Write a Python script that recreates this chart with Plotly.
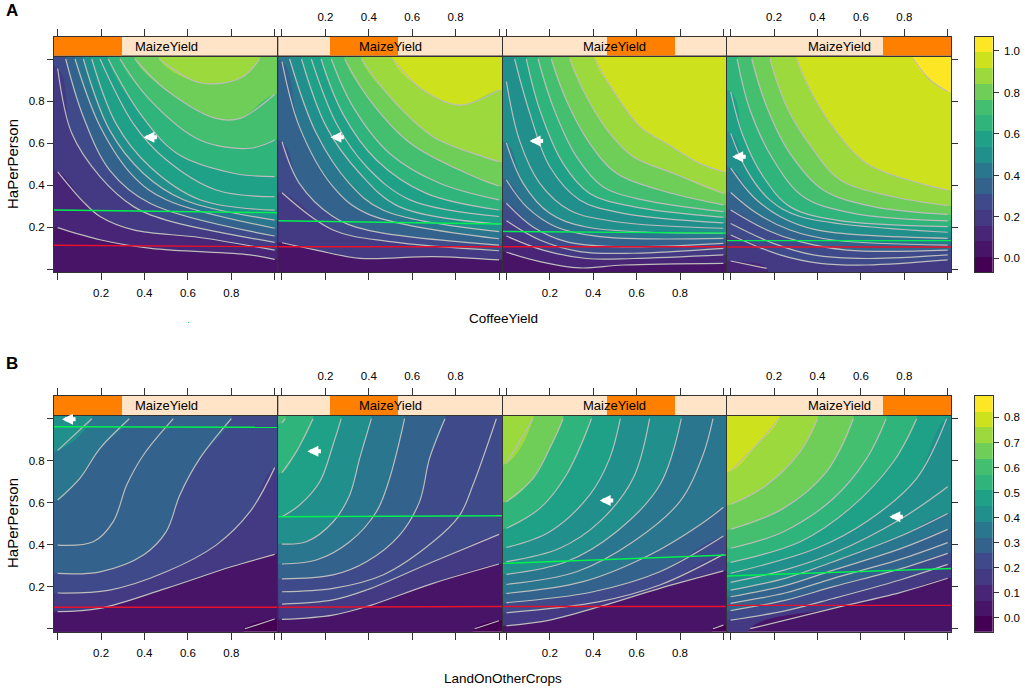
import plotly.graph_objects as go

# contour lines: (x values, y values), lowest first
lines_a1 = [
    ([0, .2, .43, .886, 1], [.197, .138, .098, .067, .046]),
    ([0, .118, .195, .35, .655, 1], [.463, .32, .25, .186, .15, .09]),
    ([0, .065, .195, .35, .5, 1], [.955, .646, .44, .297, .233, .127]),
    ([.037, .118, .24, .425, 1], [1, .725, .47, .313, .157]),
    ([.08, .195, .35, .5, 1], [1, .68, .44, .33, .194]),
    ([.118, .24, .395, .58, 1], [1, .66, .455, .33, .233]),
    ([.157, .27, .425, .655, 1], [1, .69, .487, .33, .28]),
    ([.195, .35, .5, .73, 1], [1, .69, .52, .376, .344]),
    ([.233, .38, .55, .81, 1], [1, .74, .55, .456, .44]),
    ([.287, .425, .655, .886, 1], [1, .805, .614, .575, .614]),
    ([.356, .5, .73, .84, 1], [1, .852, .717, .717, .832]),
    ([.468, .655, .84, .93], [1, .887, .908, 1]),
]
lines_a2 = [
    ([0, .158, .358, .696, 1], [.125, .09, .051, .059, .043]),
    ([0, .235, .5, 1], [.363, .186, .13, .087]),
    ([0, .08, .235, .39, 1], [.606, .408, .25, .186, .114]),
    ([0, .08, .235, .39, 1], [.987, .678, .392, .265, .144]),
    ([.035, .158, .31, .465, 1], [1, .646, .408, .281, .178]),
    ([.09, .204, .358, .54, 1], [1, .678, .456, .297, .214]),
    ([.135, .25, .39, .59, 1], [1, .694, .487, .329, .25]),
    ([.18, .28, .435, .665, 1], [1, .74, .519, .36, .281]),
    ([.227, .327, .496, .727, 1], [1, .773, .55, .408, .329]),
    ([.289, .404, .59, .85, 1], [1, .805, .6, .456, .395]),
    ([.366, .51, .696, .926, 1], [1, .805, .63, .535, .511]),
    ([.51, .65, .82, 1], [1, .852, .78, .852]),
]
lines_a3 = [
    ([0, .154, .338, .538, 1], [.08, .035, .005, .019, .027]),
    ([0, .169, .369, .584, 1], [.157, .09, .05, .05, .067]),
    ([0, .154, .338, .584, 1], [.23, .138, .083, .075, .098]),
    ([0, .123, .276, .507, 1], [.313, .2, .13, .106, .122]),
    ([0, .092, .23, .43, 1], [.424, .297, .2, .154, .146]),
    ([0, .077, .2, .369, 1], [.6, .408, .265, .2, .17]),
    ([0, .06, .154, .292, .507, 1], [.892, .614, .408, .28, .225, .194]),
    ([.038, .108, .2, .338, .538, 1], [1, .741, .487, .329, .265, .22]),
    ([.092, .154, .261, .384, .584, 1], [1, .757, .503, .36, .297, .246]),
    ([.146, .215, .323, .445, .63, 1], [1, .773, .535, .392, .329, .273]),
    ([.207, .276, .384, .507, .707, 1], [1, .805, .598, .456, .376, .305]),
    ([.292, .369, .476, .584, .768, 1], [1, .82, .646, .535, .456, .36]),
    ([.407, .49, .615, .737, .89, 1], [1, .852, .678, .598, .503, .463]),
]
lines_a4 = [
    ([0, .166], [.038, .003]),
    ([0, .227, .412, .627, 1], [.162, .067, .027, .019, .043]),
    ([0, .197, .381, .627, 1], [.217, .122, .067, .05, .067]),
    ([0, .166, .32, .535, 1], [.281, .186, .13, .09, .09]),
    ([0, .12, .273, .473, 1], [.364, .265, .186, .138, .114]),
    ([0, .104, .227, .396, 1], [.48, .344, .25, .186, .146]),
    ([0, .074, .18, .32, 1], [.646, .471, .329, .25, .175]),
    ([0, .058, .15, .273, .488, 1], [.844, .63, .44, .297, .233, .202]),
    ([.03, .089, .197, .335, .565, 1], [1, .757, .519, .344, .265, .229]),
    ([.097, .166, .273, .427, .657, 1], [1, .773, .551, .376, .297, .26]),
    ([.181, .258, .381, .504, .75, 1], [1, .773, .567, .424, .344, .302]),
    ([.304, .366, .458, .627, .873, 1], [1, .852, .694, .503, .408, .376]),
    ([.842, .919, 1], [1, .9, .845]),
]
lines_b1 = [
    ([.863, 1], [0, .046]),
    ([0, .195, .5, .8, 1], [.081, .097, .192, .295, .354]),
    ([0, .24, .5, .73, .886, 1], [.17, .184, .271, .398, .557, .767]),
    ([0, .195, .395, .5, .563, .655, .8], [.263, .271, .351, .462, .637, .811, 1]),
    ([0, .164, .256, .318, .395, .533], [.398, .414, .51, .684, .827, 1]),
    ([0, .103, .195, .33], [.613, .717, .859, 1]),
    ([0, .157], [.849, 1]),
]
lines_b2 = [
    ([.888, 1], [0, .038]),
    ([0, .235, .389, .696, 1], [.044, .065, .105, .216, .308]),
    ([0, .235, .389, .696, 1], [.117, .137, .184, .319, .449]),
    ([0, .235, .465, .696, .819, .88, .988], [.176, .192, .256, .414, .541, .684, 1]),
    ([0, .235, .389, .542, .634, .68, .751], [.237, .256, .319, .446, .605, .811, 1]),
    ([0, .158, .312, .435, .496, .565], [.308, .327, .414, .557, .716, 1]),
    ([0, .112, .235, .312, .358, .412], [.403, .414, .508, .637, .811, 1]),
    ([0, .081, .174, .235, .273], [.533, .589, .7, .875, 1]),
    ([0, .066, .143], [.743, .843, 1]),
    ([0, .015], [.98, 1]),
]
lines_b3 = [
    ([.952, 1], [0, .017]),
    ([0, .2, .43, .707, 1], [.014, .041, .105, .192, .275]),
    ([0, .43, .707, 1], [.076, .129, .208, .354]),
    ([0, .4, .707, 1], [.124, .176, .271, .441]),
    ([0, .353, .66, .891, 1], [.168, .224, .351, .494, .578]),
    ([0, .323, .584, .799, .906, .952], [.211, .271, .414, .605, .827, 1]),
    ([0, .276, .507, .707, .806], [.259, .319, .462, .684, 1]),
    ([0, .246, .43, .584, .66], [.319, .383, .51, .716, 1]),
    ([0, .2, .384, .476, .525], [.387, .462, .637, .811, 1]),
    ([0, .154, .276, .392], [.478, .573, .732, 1]),
    ([0, .123, .2, .261], [.605, .716, .859, 1]),
    ([0, .123], [.787, 1]),
]
lines_b4 = [
    ([.09, .473, .78, 1], [0, .097, .172, .24]),
    ([0, .25, .473, .78, 1], [.041, .085, .144, .232, .306]),
    ([0, .25, .473, .78, 1], [.086, .135, .2, .285, .359]),
    ([0, .25, .473, .78, 1], [.121, .17, .24, .33, .41]),
    ([0, .25, .473, .78, 1], [.152, .205, .279, .38, .473]),
    ([0, .25, .473, .78, 1], [.184, .24, .319, .44, .549]),
    ([0, .25, .473, .78, 1], [.221, .28, .359, .52, .676]),
    ([0, .396, .627, .857, .995], [.264, .383, .51, .716, 1]),
    ([0, .32, .55, .75, .857], [.316, .414, .573, .795, 1]),
    ([0, .243, .473, .627, .716], [.383, .462, .62, .811, 1]),
    ([0, .243, .442, .565], [.473, .573, .748, 1]),
    ([0, .166, .32, .40], [.592, .684, .843, 1]),
    ([0, .12, .223], [.751, .875, 1]),
]

# colour band of each panel region: the part below the lowest line, then above each line in turn
bands_a1 = [1, 2, 3, 4, 5, 6, 7, 8, 8, 9, 10, 11, 12]
bands_a2 = [1, 3, 4, 5, 6, 7, 8, 8, 9, 10, 11, 12, 13]
bands_a3 = [1, 2, 3, 4, 5, 6, 7, 7, 8, 9, 10, 11, 12, 13]
bands_a4 = [2, 3, 4, 4, 5, 6, 7, 8, 9, 10, 11, 12, 13, 14]
bands_b1 = [0, 1, 3, 4, 5, 5, 6, 7]
bands_b2 = [0, 1, 3, 4, 4, 5, 6, 7, 8, 9, 10]
bands_b3 = [0, 1, 3, 4, 5, 6, 6, 7, 7, 8, 9, 11, 12]
bands_b4 = [1, 3, 4, 5, 5, 6, 7, 7, 8, 9, 10, 11, 12, 13]

# level breaks of the two colour keys
breaks_a_start, breaks_a_size = 0.009, 0.0757
breaks_b_start, breaks_b_size = 0.0077, 0.0627
key_ticks_a = [0, 0.2, 0.4, 0.6, 0.8, 1.0]
key_ticks_b = [0, 0.1, 0.2, 0.3, 0.4, 0.5, 0.6, 0.7, 0.8]

band_colors = ['#440154', '#481467', '#482576', '#443a83', '#3e4a89', '#33638d', '#2a768e',
               '#21908c', '#1fa187', '#2fb47c', '#44bf70', '#6ece58', '#9bd93c', '#cde11d', '#fde725']

# shingle ranges of the MaizeYield strips
shingle_low = [-0.02, 0.223, 0.464, 0.703]
shingle_high = [0.295, 0.538, 0.777, 1.02]

# reference lines, value at left end and right end
green_a = [[.281, .268], [.23, .214], [.179, .171], [.135, .135]]
red_a = [[.113, .106], [.106, .106], [.106, .106], [.105, .105]]
green_b = [[.962, .959], [.533, .538], [.311, .351], [.251, .287]]
red_b = [[.102, .102], [.102, .106], [.106, .106], [.111, .111]]

# white arrow tips
arrows_a = [[.395, .627], [.223, .627], [.107, .61], [.007, .535]]
arrows_b = [[.02, .997], [.117, .845], [.43, .61], [.731, .533]]

axis_ticks = [0, 0.2, 0.4, 0.6, 0.8, 1]
axis_tick_text = ['', '0.2', '0.4', '0.6', '0.8', '']

W, H = 1025, 700
FONT = 'Liberation Sans, Arial'
TICK_SIZE = 11.5
LINE = '#333333'
PAD = 0.2  # fills run past the panel and get clipped by the axes


def px_x(v):
    return v / W


def px_y(v):
    return 1 - v / H


def region_above(xs, ys):
    # close a contour line along the panel edge, counter-clockwise, so the polygon covers the higher side
    x0, x1, y0, y1 = -PAD, 1 + PAD, -PAD, 1 + PAD
    start = 'left' if xs[0] <= 0.001 else ('bottom' if ys[0] <= 0.005 else 'top')
    end = 'right' if xs[-1] >= 0.995 else ('bottom' if ys[-1] <= 0.005 else 'top')
    first = {'left': (x0, ys[0]), 'bottom': (xs[0], y0), 'top': (xs[0], y1)}[start]
    last = {'right': (x1, ys[-1]), 'bottom': (xs[-1], y0), 'top': (xs[-1], y1)}[end]
    path = [first] + list(zip(xs, ys)) + [last]
    corners = [('bottom', (x1, y0)), ('right', (x1, y1)), ('top', (x0, y1)), ('left', (x0, y0))]
    names = [c[0] for c in corners]
    i = names.index(end)
    while names[i % 4] != start:
        path.append(corners[i % 4][1])
        i += 1
    return [p[0] for p in path], [p[1] for p in path]


fig = go.Figure()
layout = {}
annotations = []

panel_left = [54, 278.3, 502.7, 727]
panel_w = 224.3
x_range = [-0.017, 1.0166]

rows = [
    dict(lines=[lines_a1, lines_a2, lines_a3, lines_a4], bands=[bands_a1, bands_a2, bands_a3, bands_a4],
         green=green_a, red=red_a, arrows=arrows_a,
         top=55.5, bottom=272.3, strip_top=36.7, yrange=[-0.0157, 1.0167],
         start=breaks_a_start, size=breaks_a_size,
         title='CoffeeYield', title_y=318, ytitle_y=164, letter='A', letter_y=11, ticks=key_ticks_a),
    dict(lines=[lines_b1, lines_b2, lines_b3, lines_b4], bands=[bands_b1, bands_b2, bands_b3, bands_b4],
         green=green_b, red=red_b, arrows=arrows_b,
         top=415, bottom=631.7, strip_top=396, yrange=[-0.0143, 1.0176],
         start=breaks_b_start, size=breaks_b_size,
         title='LandOnOtherCrops', title_y=678, ytitle_y=523, letter='B', letter_y=363, ticks=key_ticks_b),
]

axis_n = 0
for r, row in enumerate(rows):
    dom_y = [px_y(row['bottom']), px_y(row['top'])]
    strip_y = [px_y(row['top']), px_y(row['strip_top'])]
    for i in range(4):
        # main panel
        axis_n += 1
        xa, ya = f'x{axis_n}', f'y{axis_n}'
        panel_lines = row['lines'][i]
        bands = row['bands'][i]
        # lowest band as the background, every level painted over the one below
        fig.add_trace(go.Scatter(x=[-PAD, 1 + PAD, 1 + PAD, -PAD], y=[-PAD, -PAD, 1 + PAD, 1 + PAD], mode='lines',
                                 fill='toself', fillcolor=band_colors[bands[0]], line=dict(width=0), xaxis=xa,
                                 yaxis=ya, showlegend=False, hoverinfo='skip'))
        for k, (lx, ly) in enumerate(panel_lines):
            rx, ry = region_above(lx, ly)
            fig.add_trace(go.Scatter(x=rx, y=ry, mode='lines', fill='toself', fillcolor=band_colors[bands[k + 1]],
                                     line=dict(width=0, shape='spline', smoothing=1), xaxis=xa, yaxis=ya,
                                     showlegend=False, hoverinfo='skip'))
        for lx, ly in panel_lines:
            fig.add_trace(go.Scatter(x=lx, y=ly, mode='lines', xaxis=xa, yaxis=ya, showlegend=False,
                                     line=dict(color='#bcbcbc', width=1.2, shape='spline', smoothing=1),
                                     hoverinfo='skip'))
        for vals, col in ((row['green'][i], '#00f050'), (row['red'][i], '#e8112d')):
            fig.add_trace(go.Scatter(x=x_range, y=vals, mode='lines', xaxis=xa, yaxis=ya, showlegend=False,
                                     line=dict(color=col, width=1.4), hoverinfo='skip'))
        annotations.append(dict(x=row['arrows'][i][0], y=row['arrows'][i][1], xref=xa, yref=ya, text='',
                                showarrow=True, ax=15, ay=0, arrowhead=2, arrowsize=0.55, arrowwidth=4,
                                arrowcolor='white'))
        layout[f'xaxis{axis_n}'] = dict(domain=[px_x(panel_left[i]), px_x(panel_left[i] + panel_w)],
                                        range=x_range, anchor=ya, tickvals=axis_ticks,
                                        ticktext=axis_tick_text, showticklabels=i % 2 == 0,
                                        ticks='outside', ticklen=7, tickwidth=1, tickcolor=LINE,
                                        ticklabelstandoff=3, showline=True, mirror=True, linecolor=LINE,
                                        linewidth=1, showgrid=False, zeroline=False,
                                        tickfont=dict(family=FONT, size=TICK_SIZE, color='black'))
        layout[f'yaxis{axis_n}'] = dict(domain=dom_y, range=row['yrange'], anchor=xa, tickvals=axis_ticks,
                                        ticktext=axis_tick_text, showticklabels=i == 0,
                                        side='right' if i == 3 else 'left',
                                        ticks='outside' if i in (0, 3) else '', ticklen=6, tickwidth=1,
                                        tickcolor=LINE, showline=True, mirror=True, linecolor=LINE,
                                        linewidth=1, showgrid=False, zeroline=False,
                                        tickfont=dict(family=FONT, size=TICK_SIZE, color='black'))

        # strip above the panel, it also carries the top axis
        axis_n += 1
        xs, ys = f'x{axis_n}', f'y{axis_n}'
        fig.add_trace(go.Bar(x=[x_range[1] - x_range[0]], base=[x_range[0]], y=[0.5], width=[1], orientation='h',
                             xaxis=xs, yaxis=ys, marker=dict(color='#ffe4c8', line=dict(width=0)),
                             showlegend=False, hoverinfo='skip'))
        fig.add_trace(go.Bar(x=[shingle_high[i] - shingle_low[i]], base=[shingle_low[i]], y=[0.5], width=[1],
                             orientation='h', xaxis=xs, yaxis=ys, marker=dict(color='#ff7f00', line=dict(width=0)),
                             showlegend=False, hoverinfo='skip'))
        layout[f'xaxis{axis_n}'] = dict(domain=[px_x(panel_left[i]), px_x(panel_left[i] + panel_w)],
                                        range=x_range, anchor=ys, side='top', tickvals=axis_ticks,
                                        ticktext=axis_tick_text, showticklabels=i % 2 == 1,
                                        ticks='outside', ticklen=7, tickwidth=1, tickcolor=LINE,
                                        ticklabelstandoff=3, showline=True, mirror=True, linecolor=LINE,
                                        linewidth=1, showgrid=False, zeroline=False,
                                        tickfont=dict(family=FONT, size=TICK_SIZE, color='black'))
        layout[f'yaxis{axis_n}'] = dict(domain=strip_y, range=[0, 1], anchor=xs, showticklabels=False,
                                        ticks='', showline=True, mirror=True, linecolor=LINE, linewidth=1,
                                        showgrid=False, zeroline=False)
        annotations.append(dict(x=0.5, y=0.5, xref=f'{xs} domain', yref=f'{ys} domain', text='MaizeYield',
                                showarrow=False, xanchor='center', yanchor='middle',
                                font=dict(family=FONT, size=13, color='black')))

    # colour key
    axis_n += 1
    xk, yk = f'x{axis_n}', f'y{axis_n}'
    edges = [row['start'] + row['size'] * (k - 1) for k in range(16)]
    mids = [[(edges[k] + edges[k + 1]) / 2] for k in range(15)]
    fig.add_trace(go.Heatmap(x=[0, 1], y=edges, z=mids, xaxis=xk, yaxis=yk, showscale=False,
                             colorscale=[[k / 14, c] for k, c in enumerate(band_colors)], hoverinfo='skip'))
    layout[f'xaxis{axis_n}'] = dict(domain=[px_x(975), px_x(992.7)], range=[0, 1], anchor=yk, showticklabels=False,
                                    ticks='', showline=True, mirror=True, linecolor=LINE, linewidth=1,
                                    showgrid=False, zeroline=False)
    layout[f'yaxis{axis_n}'] = dict(domain=[px_y(row['bottom']), px_y(row['strip_top'])],
                                    range=[edges[0], edges[-1]], anchor=xk, side='right', tickvals=row['ticks'],
                                    ticktext=[f'{t:.1f}' for t in row['ticks']], ticks='outside', ticklen=5,
                                    tickwidth=1, tickcolor=LINE, ticklabelstandoff=3, showline=True, mirror=True,
                                    linecolor=LINE, linewidth=1, showgrid=False, zeroline=False,
                                    tickfont=dict(family=FONT, size=TICK_SIZE, color='black'))

    annotations.append(dict(x=px_x(503), y=px_y(row['title_y']), xref='paper', yref='paper', text=row['title'],
                            showarrow=False, xanchor='center', yanchor='middle',
                            font=dict(family=FONT, size=13.5, color='black')))
    annotations.append(dict(x=px_x(12), y=px_y(row['ytitle_y']), xref='paper', yref='paper', text='HaPerPerson',
                            textangle=-90, showarrow=False, xanchor='center', yanchor='middle',
                            font=dict(family=FONT, size=15, color='black')))
    annotations.append(dict(x=px_x(12), y=px_y(row['letter_y']), xref='paper', yref='paper',
                            text='<b>' + row['letter'] + '</b>', showarrow=False, xanchor='center', yanchor='middle',
                            font=dict(family=FONT, size=17, color='black')))

layout['annotations'] = annotations
# stray speck under panel A
layout['shapes'] = [dict(type='rect', xref='paper', yref='paper', x0=px_x(188), x1=px_x(189), y0=px_y(323), y1=px_y(322),
                         fillcolor='#00f050', line=dict(width=0))]
fig.update_layout(width=W, height=H, margin=dict(l=0, r=0, t=0, b=0), paper_bgcolor='white', plot_bgcolor='white',
                  barmode='overlay', bargap=0, showlegend=False, **layout)

fig.write_html("out.html", post_script="document.body.style.margin='0';", config=dict(displayModeBar=False))
